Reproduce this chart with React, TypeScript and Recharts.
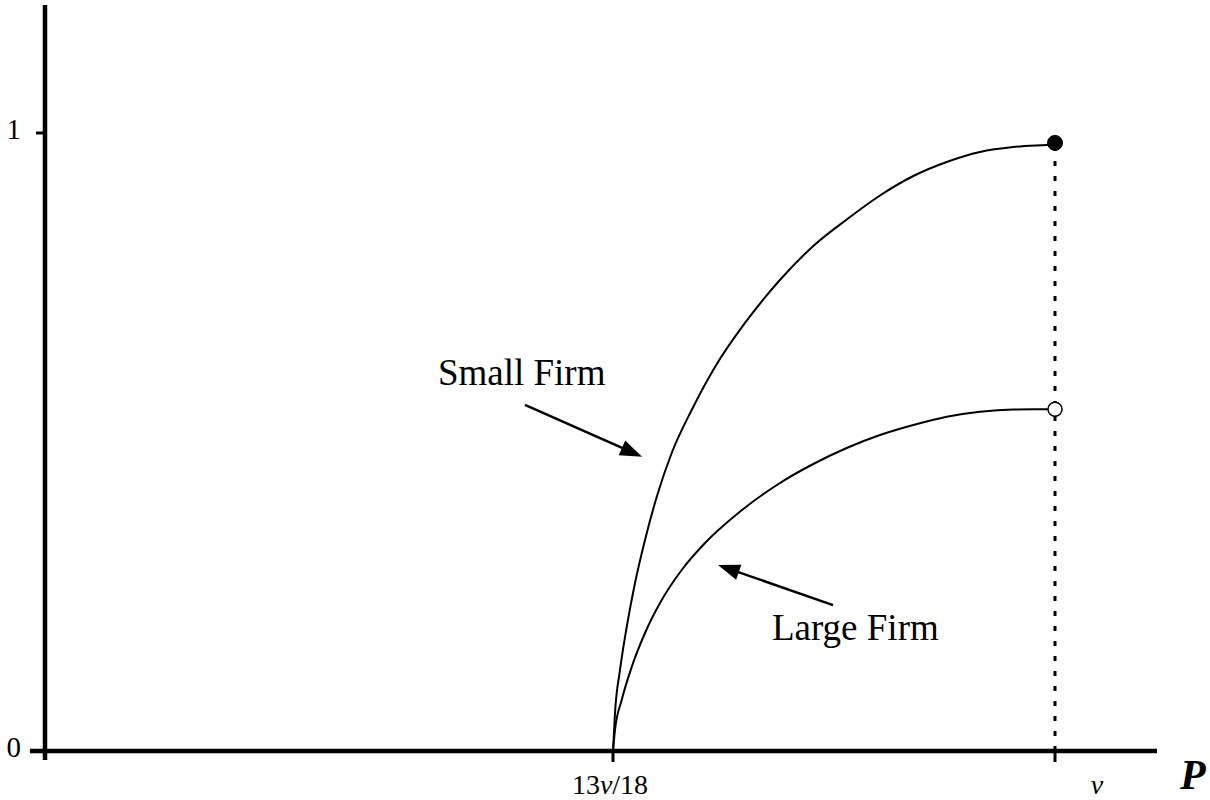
import React from "react";
import { LineChart, Line, XAxis, YAxis, ReferenceLine, ReferenceDot } from "recharts";

// ---- data (P in units of v, share on the vertical axis) ----
const smallFirmP = [0.72222, 0.72348, 0.72662, 0.73083, 0.73605, 0.74233, 0.74968, 0.75911, 0.77168, 0.78632, 0.80517, 0.82654, 0.8481, 0.86909, 0.89002, 0.91095, 0.93193, 0.95286, 0.97379, 0.99478, 1.0];
const smallFirmY = [0, 0.0615, 0.1311, 0.2006, 0.2718, 0.3414, 0.411, 0.4822, 0.5518, 0.6214, 0.6926, 0.7605, 0.8172, 0.86, 0.8989, 0.9304, 0.9531, 0.9693, 0.9773, 0.9806, 0.9814];
const largeFirmP = [0.72222, 0.72348, 0.72769, 0.73397, 0.74233, 0.75283, 0.76539, 0.78004, 0.80097, 0.82717, 0.8481, 0.86909, 0.89002, 0.91095, 0.93193, 0.95286, 0.97379, 0.99478, 1.0];
const largeFirmY = [0, 0.034, 0.0825, 0.1359, 0.1909, 0.2443, 0.2929, 0.3366, 0.3851, 0.4337, 0.4644, 0.4903, 0.5113, 0.5275, 0.5409, 0.549, 0.5525, 0.5529, 0.553];

const xTicks = [13 / 18, 1];
const xTickLabels = ["13v/18", "v"];
const yTicks = [0, 1];
const yTickLabels = ["0", "1"];

const xDomain: [number, number] = [0.36526, 1.0641];
const yDomain: [number, number] = [0, 1.2071];

// annotation anchors (data coordinates)
const smallArrow = { from: { x: 0.6669, y: 0.56 }, to: { x: 0.7405, y: 0.476 } };
const largeArrow = { from: { x: 0.8605, y: 0.236 }, to: { x: 0.7882, y: 0.301 } };
const smallLabel = { x: 0.6122, y: 0.592, text: "Small Firm" };
const largeLabel = { x: 0.8221, y: 0.18, text: "Large Firm" };
const endSmall = { x: 1, y: 0.984 };
const endLarge = { x: 1, y: 0.553 };

const smallData = smallFirmP.map((x, i) => ({ x, y: smallFirmY[i] }));
const largeData = largeFirmP.map((x, i) => ({ x, y: largeFirmY[i] }));

const FONT = "'Liberation Serif', 'Times New Roman', serif";
const xLabelOffset: Record<string, number> = { "13v/18": -3, v: 42 };

const XTick = (props: any) => {
  const { x, y, payload, index } = props;
  const label = xTickLabels[index] ?? String(payload.value);
  const parts = label.split("v");
  return (
    <text x={x + (xLabelOffset[label] ?? 0)} y={y + 30} textAnchor="middle" fontFamily={FONT} fontSize={28} fill="#000">
      {parts.map((p: string, i: number) => (
        <React.Fragment key={i}>
          {p && <tspan>{p}</tspan>}
          {i < parts.length - 1 && <tspan fontStyle="italic">v</tspan>}
        </React.Fragment>
      ))}
    </text>
  );
};

const YTick = (props: any) => {
  const { x, y, index } = props;
  return (
    <text x={x} y={y - 4} dy="0.355em" textAnchor="end" fontFamily={FONT} fontSize={29} fill="#000">
      {yTickLabels[index]}
    </text>
  );
};

const arrowShape = (props: any) => {
  const { x1, y1, x2, y2 } = props;
  const dx = x2 - x1;
  const dy = y2 - y1;
  const len = Math.sqrt(dx * dx + dy * dy) || 1;
  const ux = dx / len;
  const uy = dy / len;
  const L = 22;
  const W = 8;
  const bx = x2 - ux * L;
  const by = y2 - uy * L;
  const pts = `${x2},${y2} ${bx - uy * W},${by + ux * W} ${bx + uy * W},${by - ux * W}`;
  return (
    <g>
      <line x1={x1} y1={y1} x2={bx + ux * 2} y2={by + uy * 2} stroke="#000" strokeWidth={2.5} />
      <polygon points={pts} fill="#000" />
    </g>
  );
};

const textShape = (text: string) => (props: any) => (
  <text x={props.cx} y={props.cy} fontFamily={FONT} fontSize={37} fill="#000">
    {text}
  </text>
);

export default function App() {
  return (
    <div style={{ width: 1210, height: 800, background: "#fff" }}>
      <style>{"body{margin:0;background:#fff;}"}</style>
      <LineChart width={1210} height={800} margin={{ top: 5, right: 53, bottom: 9, left: 0 }}>
        <XAxis
          type="number"
          dataKey="x"
          domain={xDomain}
          allowDataOverflow
          ticks={xTicks}
          axisLine={false}
          tickLine={{ stroke: "#000", strokeWidth: 3 }}
          tickSize={11}
          height={40}
          tick={<XTick />}
          interval={0}
          label={{
            value: "P",
            content: (p: any) => {
              const vb = p.viewBox || {};
              return (
                <text x={vb.x + vb.width + 23} y={vb.y + 38} fontFamily={FONT} fontSize={42} fontWeight="bold" fontStyle="italic" fill="#000">
                  P
                </text>
              );
            },
          }}
        />
        <YAxis
          type="number"
          dataKey="y"
          domain={yDomain}
          allowDataOverflow
          ticks={yTicks}
          axisLine={false}
          tickLine={{ stroke: "#000", strokeWidth: 3 }}
          tickSize={9}
          tickMargin={15}
          width={45}
          tick={<YTick />}
          interval={0}
        />
        {/* axes */}
        <ReferenceLine
          segment={[{ x: xDomain[0], y: -0.0146 }, { x: xDomain[0], y: yDomain[1] }]}
          ifOverflow="visible"
          stroke="#000"
          strokeWidth={4.5}
        />
        <ReferenceLine
          segment={[{ x: 0.3558, y: 0 }, { x: xDomain[1], y: 0 }]}
          ifOverflow="visible"
          stroke="#000"
          strokeWidth={4.5}
        />
        {/* dotted line at v */}
        <ReferenceLine
          segment={[{ x: 1, y: 0 }, { x: 1, y: endSmall.y }]}
          ifOverflow="visible"
          stroke="#000"
          strokeWidth={3}
          strokeDasharray="5 10"
        />
        <Line data={smallData} dataKey="y" type="monotone" stroke="#000" strokeWidth={2} dot={false} isAnimationActive={false} />
        <Line data={largeData} dataKey="y" type="monotone" stroke="#000" strokeWidth={2} dot={false} isAnimationActive={false} />
        <ReferenceDot x={endSmall.x} y={endSmall.y} r={7.5} fill="#000" stroke="#000" ifOverflow="visible" />
        <ReferenceDot x={endLarge.x} y={endLarge.y} r={7} fill="#fff" stroke="#000" strokeWidth={1.5} ifOverflow="visible" />
        {/* arrows */}
        <ReferenceLine segment={[smallArrow.from, smallArrow.to]} ifOverflow="visible" shape={arrowShape} />
        <ReferenceLine segment={[largeArrow.from, largeArrow.to]} ifOverflow="visible" shape={arrowShape} />
        {/* labels */}
        <ReferenceDot x={smallLabel.x} y={smallLabel.y} r={0} ifOverflow="visible" shape={textShape(smallLabel.text)} />
        <ReferenceDot x={largeLabel.x} y={largeLabel.y} r={0} ifOverflow="visible" shape={textShape(largeLabel.text)} />
      </LineChart>
    </div>
  );
}
